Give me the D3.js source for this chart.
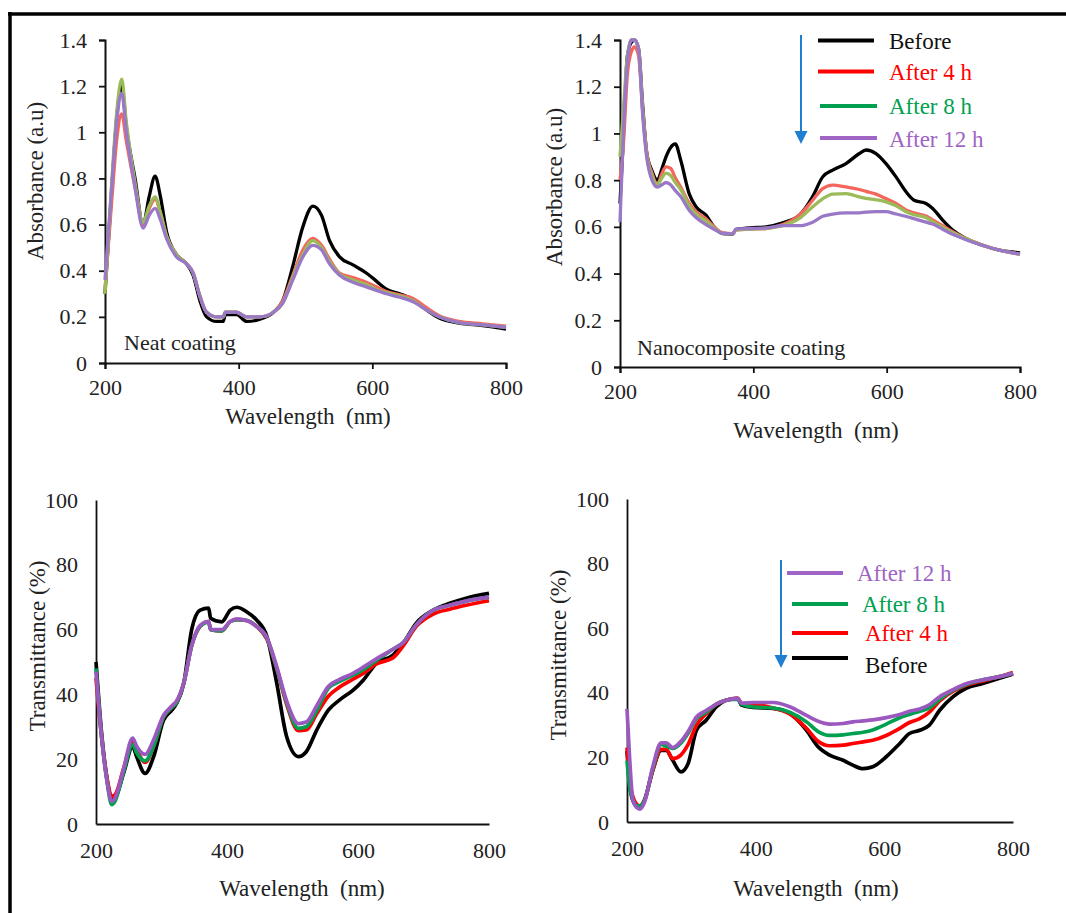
<!DOCTYPE html>
<html>
<head>
<meta charset="utf-8">
<script src="https://cdn.jsdelivr.net/npm/d3@7"></script>
<style>
body { margin: 0; background: #fff; }
svg text { font-family: "Liberation Serif", "DejaVu Serif", "Noto Serif", "Times New Roman", Times, serif; fill: #222; }
</style>
</head>
<body>
<div id="chart"></div>
<script>
// ---- data ----
var seriesNames = ["Before", "After 4 h", "After 8 h", "After 12 h"];

// top left: absorbance, neat coating
var wlNeatAbs = [200, 210, 218, 225, 232, 245, 257, 266, 275, 283, 292, 307, 322, 332, 342, 352, 367, 377, 380, 397, 412, 432, 452, 466, 481, 496, 511, 524, 536, 551, 571, 591, 606, 621, 641, 661, 681, 700, 730, 765, 800];
var neatAbsBefore = [0.30, 0.75, 1.08, 1.20, 1.02, 0.80, 0.60, 0.72, 0.81, 0.72, 0.57, 0.47, 0.43, 0.38, 0.27, 0.20, 0.18, 0.18, 0.21, 0.21, 0.18, 0.19, 0.22, 0.27, 0.42, 0.59, 0.68, 0.64, 0.53, 0.46, 0.425, 0.39, 0.355, 0.32, 0.30, 0.275, 0.23, 0.195, 0.173, 0.162, 0.147];
var neatAbs4h = [0.32, 0.70, 0.98, 1.08, 0.96, 0.76, 0.60, 0.67, 0.71, 0.65, 0.55, 0.47, 0.43, 0.39, 0.29, 0.22, 0.20, 0.20, 0.22, 0.22, 0.20, 0.20, 0.22, 0.27, 0.38, 0.49, 0.54, 0.51, 0.45, 0.39, 0.37, 0.35, 0.33, 0.31, 0.295, 0.28, 0.24, 0.205, 0.18, 0.17, 0.16];
var neatAbs8h = [0.30, 0.78, 1.10, 1.23, 1.04, 0.78, 0.61, 0.68, 0.72, 0.65, 0.55, 0.47, 0.43, 0.39, 0.29, 0.22, 0.20, 0.20, 0.22, 0.22, 0.20, 0.20, 0.22, 0.26, 0.37, 0.47, 0.53, 0.50, 0.44, 0.385, 0.36, 0.34, 0.32, 0.305, 0.29, 0.27, 0.23, 0.20, 0.175, 0.165, 0.155];
var neatAbs12h = [0.36, 0.76, 1.06, 1.17, 1.00, 0.76, 0.585, 0.64, 0.67, 0.62, 0.54, 0.46, 0.43, 0.39, 0.29, 0.22, 0.20, 0.20, 0.22, 0.22, 0.20, 0.20, 0.22, 0.26, 0.36, 0.46, 0.51, 0.49, 0.43, 0.38, 0.35, 0.33, 0.315, 0.30, 0.285, 0.265, 0.23, 0.20, 0.175, 0.165, 0.155];

// top right: absorbance, nanocomposite coating
var wlNanoAbs = [200, 205, 211, 217, 222, 228, 234, 240, 248, 256, 263, 269, 276, 283, 291, 304, 314, 329, 341, 354, 369, 374, 394, 419, 444, 469, 489, 504, 519, 539, 559, 569, 584, 599, 614, 629, 641, 659, 669, 684, 699, 719, 744, 769, 800];
var nanoAbsBefore = [0.70, 0.98, 1.33, 1.39, 1.40, 1.36, 1.12, 0.92, 0.84, 0.80, 0.85, 0.90, 0.94, 0.955, 0.886, 0.74, 0.686, 0.65, 0.60, 0.571, 0.569, 0.589, 0.596, 0.60, 0.617, 0.65, 0.73, 0.814, 0.843, 0.871, 0.914, 0.929, 0.914, 0.871, 0.814, 0.75, 0.714, 0.70, 0.679, 0.629, 0.586, 0.55, 0.521, 0.50, 0.489];
var nanoAbs4h = [0.80, 0.95, 1.25, 1.35, 1.37, 1.33, 1.10, 0.92, 0.83, 0.78, 0.83, 0.857, 0.85, 0.81, 0.77, 0.70, 0.665, 0.635, 0.60, 0.575, 0.571, 0.586, 0.59, 0.593, 0.61, 0.65, 0.714, 0.764, 0.779, 0.771, 0.76, 0.752, 0.74, 0.721, 0.70, 0.672, 0.66, 0.646, 0.63, 0.605, 0.579, 0.55, 0.521, 0.50, 0.483];
var nanoAbs8h = [0.90, 1.10, 1.33, 1.40, 1.40, 1.36, 1.10, 0.91, 0.82, 0.78, 0.81, 0.83, 0.82, 0.79, 0.76, 0.69, 0.655, 0.625, 0.595, 0.572, 0.571, 0.586, 0.59, 0.594, 0.605, 0.636, 0.686, 0.72, 0.74, 0.742, 0.728, 0.722, 0.716, 0.707, 0.69, 0.665, 0.652, 0.64, 0.622, 0.598, 0.575, 0.55, 0.52, 0.50, 0.483];
var nanoAbs12h = [0.62, 1.00, 1.30, 1.40, 1.40, 1.36, 1.08, 0.90, 0.80, 0.77, 0.78, 0.79, 0.78, 0.755, 0.73, 0.67, 0.64, 0.61, 0.59, 0.572, 0.57, 0.59, 0.593, 0.595, 0.605, 0.605, 0.62, 0.645, 0.655, 0.66, 0.66, 0.663, 0.665, 0.665, 0.655, 0.645, 0.635, 0.62, 0.612, 0.59, 0.568, 0.545, 0.52, 0.50, 0.483];

// bottom left: transmittance, neat coating
var wlNeatT = [200, 209, 217, 224, 229, 242, 256, 262, 275, 288, 303, 316, 323, 334, 346, 359, 372, 375, 392, 405, 415, 430, 445, 461, 476, 491, 509, 521, 537, 555, 572, 593, 608, 628, 654, 669, 689, 715, 740, 765, 800];
var neatTBefore = [50, 27, 13.6, 7.4, 7.9, 15.6, 23.9, 20.8, 15.6, 20.8, 32, 35.2, 37.2, 43.4, 59.9, 66, 66.6, 63.5, 62.4, 66, 66.9, 65.5, 63, 57.8, 43.4, 27, 20.8, 22.3, 29, 35.2, 38.3, 41.4, 44.4, 49.6, 52.2, 55.8, 62, 66, 68.1, 69.7, 71.2];
var neatT4h = [45, 26, 14, 8.5, 9, 17, 25.5, 23, 19, 24, 33, 36, 37.5, 43.5, 55, 61, 62.5, 60, 59.6, 62.5, 63.1, 62.8, 61, 57, 48, 37, 28.8, 29, 34, 39.5, 42.3, 44.8, 46.5, 49.4, 51.4, 55, 61, 64.8, 66.3, 67.5, 68.9];
var neatT8h = [48, 26, 13, 6, 7, 16, 24.5, 22, 19.5, 24, 33, 36, 37.5, 43.5, 55, 61, 62.3, 60, 59.6, 62.5, 63.1, 62.8, 61, 57.3, 48, 37.5, 29.5, 30, 35, 42, 44, 46, 47.6, 50.5, 54, 56, 61.5, 66, 67.5, 68.8, 70];
var neatT12h = [47, 26, 13, 7, 8, 17, 26.5, 24, 21.5, 26, 33.5, 36.5, 38, 43.5, 55, 61.3, 62.5, 60, 60, 62.5, 63.3, 62.8, 61, 57.5, 48.5, 38, 31, 31.5, 36.5, 42.5, 44.6, 46.6, 48.4, 51, 54, 56, 61.5, 66, 67.5, 68.8, 70];

// bottom right: transmittance, nanocomposite coating
var wlNanoT = [200, 204, 209, 215, 220, 227, 240, 253, 261, 271, 284, 295, 308, 323, 339, 354, 372, 378, 396, 427, 453, 479, 497, 515, 536, 551, 567, 582, 603, 624, 639, 655, 670, 686, 707, 727, 753, 779, 800];
var nanoTBefore = [22, 12, 6.7, 5, 4.7, 6.7, 16, 22.2, 22.2, 19.1, 15.5, 18.1, 28.4, 31.5, 35.7, 37.7, 38.3, 36.2, 35.5, 35.2, 33.6, 28.4, 23.3, 20.7, 19.1, 17.6, 16.5, 17.1, 20.2, 24.3, 27.4, 28.4, 30, 34.6, 38.8, 41.4, 42.9, 44.5, 45.8];
var nanoT4h = [23, 13, 8, 5.5, 5, 6.5, 16, 22.5, 22.5, 19.6, 20.8, 24, 30, 33.5, 36.5, 37.7, 38.3, 36.7, 36.5, 35.3, 33.5, 29, 25, 23.6, 23.8, 24.3, 24.8, 25.3, 26.8, 29, 30.8, 32, 34, 37.5, 40.5, 42.3, 43.7, 45, 46.3];
var nanoT8h = [19, 11, 7, 5, 5, 6.5, 16.5, 24, 23.5, 22.8, 24.5, 27.5, 32, 34, 36.5, 37.7, 38, 36.5, 35.6, 35.3, 34, 31, 28, 26.8, 27, 27.4, 27.8, 28.5, 30.3, 32.3, 33.3, 34.3, 35.3, 38, 40.8, 42.6, 44, 45, 46];
var nanoT12h = [35, 20, 7, 4.5, 4, 6, 17, 24.5, 24.5, 23, 25, 28, 32.5, 34.5, 36.5, 37.7, 38.3, 36.8, 37, 37, 35.7, 33, 31.2, 30.3, 30.5, 31, 31.3, 31.6, 32.3, 33.3, 34.3, 35, 36.3, 38.8, 41, 42.8, 44, 45, 46];

var absTicks = [0, 0.2, 0.4, 0.6, 0.8, 1, 1.2, 1.4];
var transTicks = [0, 20, 40, 60, 80, 100];
var wlTicks = [200, 400, 600, 800];

// ---- drawing ----
var W = 1066, H = 913;
var FONT = "'Liberation Serif', 'DejaVu Serif', 'Noto Serif', 'Times New Roman', Times, serif";
var svg = d3.select("#chart").append("svg").attr("width", W).attr("height", H)
	.attr("font-family", FONT);

var softColors = ["#000000", "#f4665c", "#9bbb59", "#9a78c8"];
var strongColors = ["#000000", "#ff0000", "#00a050", "#9b59c0"];
var legendColors = ["#111111", "#ff0000", "#00a050", "#a064c4"];

// outer frame (top + left only)
svg.append("line").attr("x1", 8).attr("x2", W).attr("y1", 14).attr("y2", 14)
	.attr("stroke", "#000").attr("stroke-width", 3.5);
svg.append("line").attr("x1", 10).attr("x2", 10).attr("y1", 12).attr("y2", H)
	.attr("stroke", "#000").attr("stroke-width", 3.5);

function drawPanel(p) {
	var x = d3.scaleLinear().domain([200, 800]).range([p.left, p.right]);
	var y = d3.scaleLinear().domain([0, p.yMax]).range([p.bottom, p.top]);
	var g = svg.append("g");

	var tickLen = p.ticks ? 6 : 0;
	var yAxis = g.append("g").attr("transform", "translate(" + p.left + ",0)")
		.call(d3.axisLeft(y).tickValues(p.yTicks).tickSize(tickLen).tickPadding(p.ticks ? 12 : 18)
			.tickFormat(function(d){ return String(+d.toFixed(1)); }));
	var xAxis = g.append("g").attr("transform", "translate(0," + p.bottom + ")")
		.call(d3.axisBottom(x).tickValues(wlTicks).tickSize(tickLen).tickPadding(p.ticks ? 10 : 18));

	[yAxis, xAxis].forEach(function(a) {
		a.attr("font-family", FONT);
		a.select(".domain").attr("stroke", "#111").attr("stroke-width", p.ticks ? 2 : 1.8);
		a.selectAll(".tick line").attr("stroke", "#111").attr("stroke-width", 1.8);
		a.selectAll("text").style("font-size", "22px").attr("fill", "#222")
			.style("font-family", FONT);
	});

	var line = d3.line()
		.x(function(d){ return x(d[0]); })
		.y(function(d){ return y(d[1]); })
		.curve(d3.curveMonotoneX);

	p.series.forEach(function(vals, i) {
		var pts = p.wl.map(function(w, j){ return [w, vals[j]]; });
		g.append("path").datum(pts)
			.attr("d", line)
			.attr("fill", "none")
			.attr("stroke", p.colors[i])
			.attr("stroke-width", p.lineWidth)
			.attr("stroke-linejoin", "round");
	});

	g.append("text")
		.attr("transform", "translate(" + p.yTitleX + "," + p.yTitleY + ") rotate(-90)")
		.attr("text-anchor", "middle").attr("dy", "0.35em")
		.style("font-size", "23px").style("font-family", FONT)
		.text(p.yTitle);
	g.append("text")
		.attr("x", p.xTitleX).attr("y", p.xTitleY)
		.attr("text-anchor", "middle").attr("dy", "0.35em")
		.style("font-size", "23px").style("font-family", FONT)
		.style("white-space", "pre")
		.text("Wavelength  (nm)");

	if (p.note) {
		g.append("text").attr("x", p.note.x).attr("y", p.note.y)
			.style("font-size", "22px").style("font-family", FONT).text(p.note.text);
	}

	if (p.legend) {
		var L = p.legend;
		g.append("line").attr("x1", L.arrowX).attr("x2", L.arrowX)
			.attr("y1", L.arrowTop).attr("y2", L.arrowTip - 10)
			.attr("stroke", "#1f7fd1").attr("stroke-width", 2);
		g.append("path")
			.attr("d", "M" + (L.arrowX - 6.5) + "," + (L.arrowTip - 13) + "L" + (L.arrowX + 6.5) + "," + (L.arrowTip - 13) + "L" + L.arrowX + "," + L.arrowTip + "Z")
			.attr("fill", "#1f7fd1");
		L.items.forEach(function(it) {
			g.append("line").attr("x1", it.x1).attr("x2", it.x2).attr("y1", it.y).attr("y2", it.y)
				.attr("stroke", it.idx === 0 ? "#000" : legendColors[it.idx])
				.attr("stroke-width", 4);
			g.append("text").attr("x", it.tx).attr("y", it.ty).attr("dy", "0.35em")
				.style("font-size", "23px").style("font-family", FONT)
				.style("fill", legendColors[it.idx])
				.text(seriesNames[it.idx]);
		});
	}
}

drawPanel({
	wl: wlNeatAbs, series: [neatAbsBefore, neatAbs4h, neatAbs8h, neatAbs12h], colors: softColors,
	left: 105, right: 506, top: 40, bottom: 363, yMax: 1.4, yTicks: absTicks, ticks: true, lineWidth: 3.3,
	yTitle: "Absorbance (a.u)", yTitleX: 35, yTitleY: 181, xTitleX: 308, xTitleY: 416,
	note: { x: 124, y: 350, text: "Neat coating" }
});

drawPanel({
	wl: wlNanoAbs, series: [nanoAbsBefore, nanoAbs4h, nanoAbs8h, nanoAbs12h], colors: softColors,
	left: 620, right: 1020, top: 40, bottom: 367, yMax: 1.4, yTicks: absTicks, ticks: true, lineWidth: 3.3,
	yTitle: "Absorbance (a.u)", yTitleX: 554, yTitleY: 187, xTitleX: 816, xTitleY: 430,
	note: { x: 637, y: 355, text: "Nanocomposite coating" },
	legend: {
		arrowX: 801, arrowTop: 35, arrowTip: 144,
		items: [
			{ idx: 0, x1: 818, x2: 874, y: 40.5, tx: 889, ty: 40.5 },
			{ idx: 1, x1: 818, x2: 874, y: 71.5, tx: 889, ty: 72 },
			{ idx: 2, x1: 820, x2: 877, y: 106, tx: 889, ty: 106 },
			{ idx: 3, x1: 820, x2: 877, y: 138, tx: 889, ty: 139 }
		]
	}
});

drawPanel({
	wl: wlNeatT, series: [neatTBefore, neatT4h, neatT8h, neatT12h], colors: strongColors,
	left: 96, right: 489, top: 500, bottom: 824, yMax: 100, yTicks: transTicks, ticks: false, lineWidth: 3.7,
	yTitle: "Transmittance (%)", yTitleX: 37, yTitleY: 646, xTitleX: 302, xTitleY: 888
});

drawPanel({
	wl: wlNanoT, series: [nanoTBefore, nanoT4h, nanoT8h, nanoT12h], colors: strongColors,
	left: 627, right: 1013, top: 499, bottom: 822, yMax: 100, yTicks: transTicks, ticks: false, lineWidth: 3.7,
	yTitle: "Transmittance (%)", yTitleX: 558, yTitleY: 655, xTitleX: 816, xTitleY: 888,
	legend: {
		arrowX: 781, arrowTop: 560, arrowTip: 668,
		items: [
			{ idx: 3, x1: 787, x2: 843, y: 573, tx: 857, ty: 573 },
			{ idx: 2, x1: 792, x2: 848, y: 604, tx: 862, ty: 604 },
			{ idx: 1, x1: 792, x2: 848, y: 633, tx: 865, ty: 633 },
			{ idx: 0, x1: 792, x2: 848, y: 658, tx: 865, ty: 665 }
		]
	}
});
</script>
</body>
</html>
